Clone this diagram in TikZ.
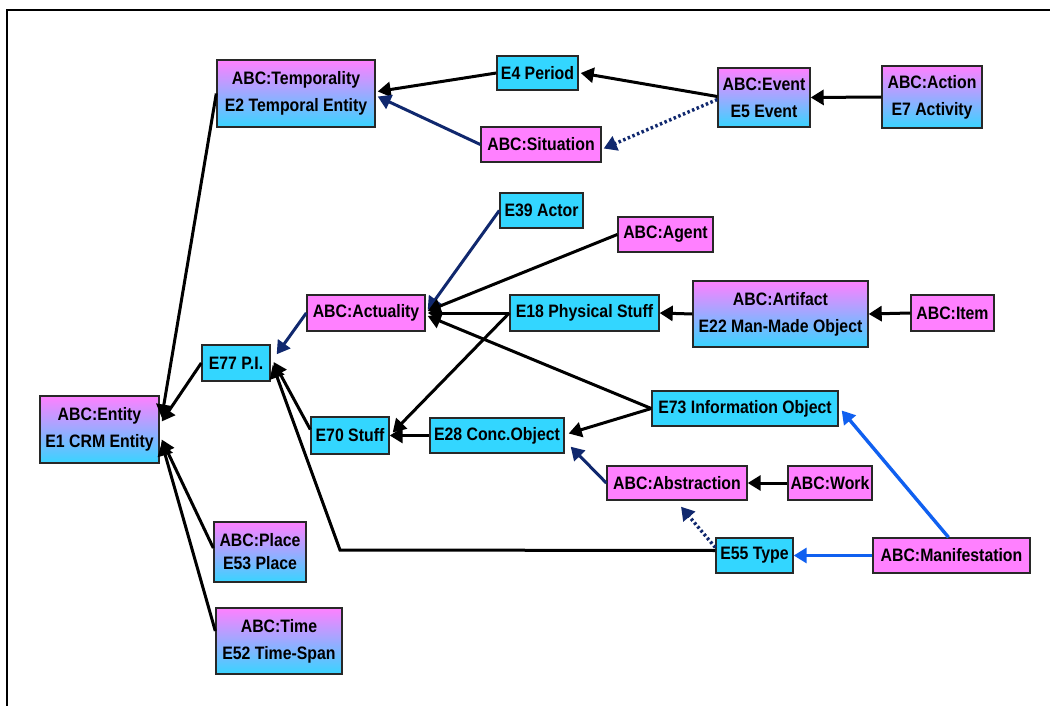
\documentclass[tikz,border=0pt]{standalone}
\usepackage{fontspec}
\setmainfont[FakeStretch=0.88]{Liberation Sans}
\usetikzlibrary{arrows.meta,calc}
\definecolor{pinkc}{RGB}{255,128,255}
\definecolor{cyanc}{RGB}{51,214,255}
\definecolor{cyanb}{RGB}{56,212,255}
\definecolor{navyc}{RGB}{16,40,110}
\definecolor{bluec}{RGB}{16,96,240}
\definecolor{bordc}{RGB}{40,40,40}
\begin{document}
\begin{tikzpicture}[x=1pt,y=-1pt,
  box/.style={draw=bordc, line width=1.4pt, inner sep=0pt, align=center,
    font=\fontsize{18}{27}\selectfont\bfseries, text=black},
  abc/.style={box, fill=pinkc},
  ecl/.style={box, fill=cyanc},
  dual/.style={box, top color=pinkc, bottom color=cyanb},
  isa/.style={-{Triangle[length=13pt,width=15pt]}, line width=3pt, draw=black},
  isanavy/.style={isa, draw=navyc},
  isadot/.style={isa, draw=navyc, line width=3.4pt, dash pattern=on 2.5pt off 2.5pt},
  isablue/.style={isa, draw=bluec, line width=3.4pt}]
\useasboundingbox (0,0) rectangle (1050,706);
\fill[white] (0,0) rectangle (1050,706);
\draw[line width=2.2pt] (7,706) -- (7,10) -- (1050,10);

\node[dual, minimum width=158, minimum height=67] (tempo) at (296,93.5) {ABC:Temporality\\E2 Temporal Entity};
\node[ecl, minimum width=81, minimum height=34] (period) at (537.5,73) {E4 Period};
\node[abc, minimum width=120, minimum height=35] (situation) at (541,144.5) {ABC:Situation};
\node[dual, minimum width=92, minimum height=59] (event) at (764,97.5) {ABC:Event\\E5 Event};
\node[dual, minimum width=100, minimum height=62] (action) at (932,97) {ABC:Action\\E7 Activity};
\node[ecl, minimum width=83, minimum height=35] (actor) at (541.5,210.5) {E39 Actor};
\node[abc, minimum width=95, minimum height=35] (agent) at (665.5,234.5) {ABC:Agent};
\node[abc, minimum width=118, minimum height=36] (actuality) at (366,313) {ABC:Actuality};
\node[ecl, minimum width=149, minimum height=36] (e18) at (584.5,313) {E18 Physical Stuff};
\node[dual, minimum width=175, minimum height=66] (artifact) at (780.5,314) {ABC:Artifact\\E22 Man-Made Object};
\node[abc, minimum width=83, minimum height=36] (item) at (952.5,313) {ABC:Item};
\node[ecl, minimum width=68, minimum height=36] (pi) at (236,363) {E77 P.I.};
\node[dual, minimum width=119, minimum height=67] (entity) at (99.5,429.5) {ABC:Entity\\E1 CRM Entity};
\node[ecl, minimum width=78, minimum height=37] (stuff) at (350,435.5) {E70 Stuff};
\node[ecl, minimum width=134, minimum height=35] (e28) at (497,435.5) {E28 Conc.Object};
\node[ecl, minimum width=186, minimum height=35] (e73) at (745,408.5) {E73 Information Object};
\node[abc, minimum width=140, minimum height=34] (abstraction) at (677,483) {ABC:Abstraction};
\node[abc, minimum width=84, minimum height=34] (work) at (830,483) {ABC:Work};
\node[ecl, minimum width=77, minimum height=35] (type) at (754.5,555.5) {E55 Type};
\node[abc, minimum width=157, minimum height=35] (manifestation) at (951.5,555.5) {ABC:Manifestation};
\node[dual, minimum width=92, minimum height=60, font=\fontsize{18}{23}\selectfont\bfseries] (place) at (260,552) {ABC:Place\\E53 Place};
\node[dual, minimum width=126, minimum height=66] (time) at (279,641) {ABC:Time\\E52 Time-Span};

\draw[isa] (tempo.west) -- ($(entity.east)+(2,-12)$);
\draw[isa] (pi.west) -- ($(entity.east)+(2,-8)$);
\draw[isa] ($(place.west)+(0,-4)$) -- ($(entity.east)+(2,10)$);
\draw[isa] ($(time.west)+(0,-10)$) -- ($(entity.east)+(2,13)$);
\draw[isa] (period.west) -- ($(tempo.east)+(2,-2)$);
\draw[isanavy] (situation.west) -- ($(tempo.east)+(2,3)$);
\draw[isa] ($(event.west)+(0,-1)$) -- ($(period.east)+(2,0)$);
\draw[isadot] ($(event.west)+(0,2)$) -- ($(situation.east)+(2,4)$);
\draw[isa] (action.west) -- (event.east);
\draw[isanavy] (actor.west) -- ($(actuality.east)+(2,-3)$);
\draw[isa] (agent.west) -- ($(actuality.east)+(2,-2)$);
\draw[isa] (e18.west) -- ($(actuality.east)+(2,0)$);
\draw[isa] (e73.west) -- ($(actuality.east)+(2,3)$);
\draw[isa] (artifact.west) -- (e18.east);
\draw[isa] (item.west) -- (artifact.east);
\draw[isa] (e18.west) -- ($(stuff.east)+(3,-3)$);
\draw[isa] (e28.west) -- (stuff.east);
\draw[isa] (e73.west) -- ($(e28.east)+(4,-2)$);
\draw[isanavy] (abstraction.west) -- ($(e28.south east)+(6,-7)$);
\draw[isa] (work.west) -- (abstraction.east);
\draw[isadot] ($(type.west)+(0,-8)$) -- ($(abstraction.south)+(4,6)$);
\draw[isablue] (manifestation.west) -- (type.east);
\draw[isablue] ($(manifestation.north)+(-3,0)$) -- ($(e73.east)+(3,2)$);
\coordinate (bend) at (340,550);
\draw[isa] ($(type.west)+(0,-5)$) -- (bend) -- ($(pi.east)+(2,2)$);
\draw[isa] ($(stuff.west)+(0,-6)$) -- ($(pi.east)+(3,-1)$);
\draw[isanavy] (actuality.west) -- ($(pi.north east)+(6,10)$);
\end{tikzpicture}
\end{document}
